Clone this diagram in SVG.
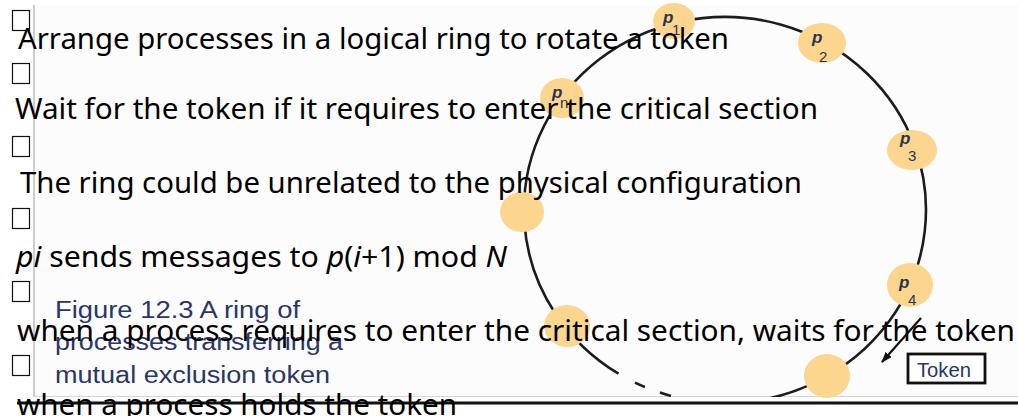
<svg xmlns="http://www.w3.org/2000/svg" width="1018" height="416" viewBox="0 0 1018 416">
<defs>
  <clipPath id="imgclip"><rect x="33" y="5" width="985" height="392"/></clipPath>
  <marker id="ah" markerWidth="11" markerHeight="8" refX="10" refY="4" orient="auto" markerUnits="userSpaceOnUse"><path d="M0,0 L11,4 L0,8 z" fill="#111"/></marker>
  <style>
    .txt{font-family:"Noto Sans","Liberation Sans",sans-serif;font-size:29px;fill:#000}
    .cap{font-family:"Liberation Sans",Arial,sans-serif;font-size:23px;fill:#2a3666}
    .chk{fill:none;stroke:#111;stroke-width:1.2}
    .node{fill:#fcd68f}
    .lbl{font-family:"Liberation Sans",Arial,sans-serif;font-style:italic;font-weight:bold;font-size:17px;fill:#2b3450}
    .sub{font-family:"Liberation Sans",Arial,sans-serif;font-size:15px;fill:#2b3450}
    .ring{fill:none;stroke:#1c1c1c;stroke-width:2.6}
  </style>
</defs>
<rect x="0" y="0" width="1018" height="416" fill="#ffffff"/>
<g id="figure-bg">
  <rect x="33" y="5" width="985" height="392" fill="#fcfcfc"/>
  <line x1="34" y1="5" x2="34" y2="397" stroke="#cdcdcd" stroke-width="2"/>
  <line x1="33" y1="396.5" x2="1018" y2="396.5" stroke="#d5d5d5" stroke-width="1"/>
</g>
<g id="connectors">
  <g clip-path="url(#imgclip)">
    <path class="ring" d="M618.5,373.7 A201,193 0 1 1 725,403"/>
    <path class="ring" d="M635.0,382.6 A201,193 0 0 0 644.9,387.0"/>
    <path class="ring" d="M659.9,392.6 A201,193 0 0 0 671.0,395.9"/>
  </g>
  <line x1="921" y1="318" x2="882" y2="362" stroke="#111" stroke-width="2.2" marker-end="url(#ah)"/>
</g>
<g id="node-p1">
  <ellipse class="node" cx="674" cy="21" rx="21" ry="18"/>
  <text class="lbl" x="663" y="23">p</text><text class="sub" x="672" y="35">1</text>
</g>
<g id="node-p2">
  <ellipse class="node" cx="822" cy="43" rx="24" ry="20"/>
  <text class="lbl" x="812" y="43">p</text><text class="sub" x="819" y="62">2</text>
</g>
<g id="node-p3">
  <ellipse class="node" cx="912" cy="150" rx="25" ry="20"/>
  <text class="lbl" x="900" y="144">p</text><text class="sub" x="908" y="161">3</text>
</g>
<g id="node-p4">
  <ellipse class="node" cx="910" cy="285" rx="23" ry="22"/>
  <text class="lbl" x="899" y="288">p</text><text class="sub" x="908" y="305">4</text>
</g>
<g id="node-bottom">
  <ellipse class="node" cx="827" cy="376" rx="23" ry="22"/>
</g>
<g id="node-left-bottom">
  <ellipse class="node" cx="567" cy="326" rx="23" ry="21"/>
</g>
<g id="node-left">
  <ellipse class="node" cx="522" cy="212" rx="22" ry="20"/>
</g>
<g id="node-pn">
  <ellipse class="node" cx="562" cy="98" rx="22" ry="20"/>
  <text class="lbl" x="552" y="98">p</text><text class="sub" x="560" y="108">n</text>
</g>
<g id="token">
  <rect x="908" y="354" width="77" height="29" fill="#ffffff" stroke="#111" stroke-width="2.8"/>
  <text x="917" y="377" font-family="Liberation Sans, Arial, sans-serif" font-size="20" fill="#2a3666" textLength="54" lengthAdjust="spacingAndGlyphs">Token</text>
</g>
<g id="caption">
  <text class="cap" x="55" y="318" textLength="245" lengthAdjust="spacingAndGlyphs">Figure 12.3 A ring of</text>
  <text class="cap" x="55" y="350" textLength="288" lengthAdjust="spacingAndGlyphs">processes transferring a</text>
  <text class="cap" x="55" y="383" textLength="275" lengthAdjust="spacingAndGlyphs">mutual exclusion token</text>
</g>
<line x1="17" y1="403" x2="1018" y2="403" stroke="#111" stroke-width="3"/>
<g id="bullets">
  <rect class="chk" x="12.5" y="10.5" width="17" height="20"/>
  <rect class="chk" x="12.5" y="63.5" width="17" height="20"/>
  <rect class="chk" x="12.5" y="136.5" width="17" height="20"/>
  <rect class="chk" x="12.5" y="208.5" width="17" height="20"/>
  <rect class="chk" x="12.5" y="281.5" width="17" height="20"/>
  <rect class="chk" x="12.5" y="355.5" width="17" height="20"/>
  <text class="txt" x="18" y="49" textLength="711" lengthAdjust="spacingAndGlyphs">Arrange processes in a logical ring to rotate a token</text>
  <text class="txt" x="15" y="119" textLength="803" lengthAdjust="spacingAndGlyphs">Wait for the token if it requires to enter the critical section</text>
  <text class="txt" x="20" y="193" textLength="782" lengthAdjust="spacingAndGlyphs">The ring could be unrelated to the physical configuration</text>
  <text class="txt" x="16" y="267" textLength="491" lengthAdjust="spacingAndGlyphs"><tspan font-style="italic">pi</tspan> sends messages to <tspan font-style="italic">p</tspan>(<tspan font-style="italic">i</tspan>+1) mod <tspan font-style="italic">N</tspan></text>
  <text class="txt" x="17" y="341" textLength="998" lengthAdjust="spacingAndGlyphs">when a process requires to enter the critical section, waits for the token</text>
  <text class="txt" x="17" y="415" textLength="440" lengthAdjust="spacingAndGlyphs">when a process holds the token</text>
</g>
</svg>
